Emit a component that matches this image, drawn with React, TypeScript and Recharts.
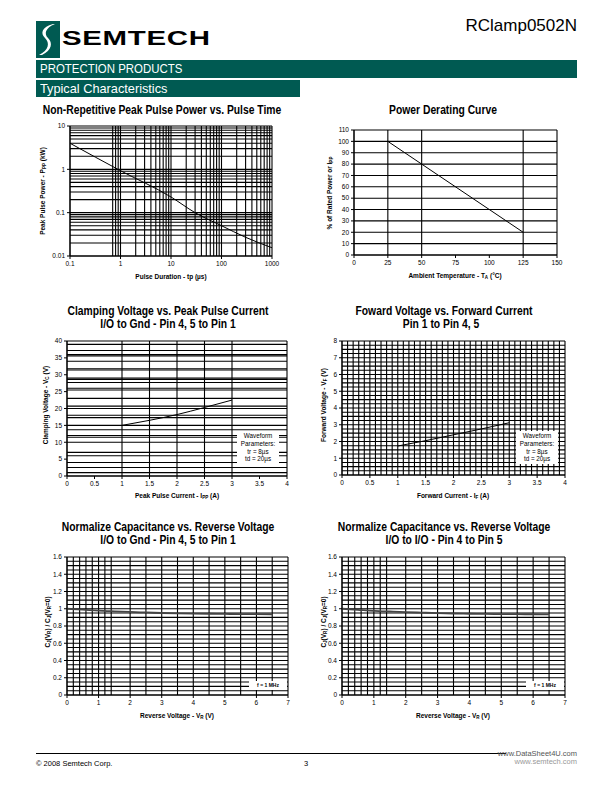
import React from 'react';
import { LineChart, Line, XAxis, YAxis, CartesianGrid } from 'recharts';

// Non-Repetitive Peak Pulse Power vs. Pulse Time (log-log)
const pulseTime = [0.1, 1, 10, 30, 100, 300, 1000];
const pulsePower = [4, 0.93, 0.23, 0.1, 0.05, 0.027, 0.0155];
const pulseTimeTicks = [0.1, 1, 10, 100, 1000];
const pulsePowerTicks = [0.01, 0.1, 1, 10];
const pulseTimeGrid = [0.1, 0.7, 0.8, 0.9, 1, 2, 3, 4, 5, 6, 7, 8, 9, 10, 20, 30, 40, 50, 60, 70, 80, 90,
  100, 200, 300, 400, 500, 600, 700, 800, 900, 1000];
const pulsePowerGrid = [0.01, 0.02, 0.03, 0.04, 0.05, 0.06, 0.07, 0.08, 0.09, 0.1, 0.2, 0.3, 0.4, 0.5, 0.6, 0.7,
  0.8, 0.9, 1, 2, 3, 4, 5, 6, 7, 8, 9, 10];

// Power Derating Curve
const deratingTemp = [25, 125];
const deratingPct = [100, 20];
const tempTicks = [0, 25, 50, 75, 100, 125, 150];
const tempGrid = [0, 25, 50, 125, 150];
const pctTicks = [0, 10, 20, 30, 40, 50, 60, 70, 80, 90, 100, 110];

// Clamping Voltage vs. Peak Pulse Current
const clampCurrent = [1, 1.5, 2, 2.5, 3];
const clampVoltage = [15, 16.5, 18.2, 20.3, 22.5];
const currentTicks = [0, 0.5, 1, 1.5, 2, 2.5, 3, 3.5, 4];
const clampTicks = [0, 5, 10, 15, 20, 25, 30, 35, 40];
const clampXGrid = [0, 1, 1.5, 2, 2.5, 3, 4];
const clampYGrid = [0, 1, 2.5, 4, 6, 7, 10, 11.5, 12, 13.7, 15, 17.3, 18, 20, 20.7, 23, 25.5, 26, 27.7, 28.6,
  29, 31.4, 31.8, 34, 35.6, 36, 37.2, 39, 40];

// Foward Voltage vs. Forward Current
const fwdCurrent = [1, 1.5, 2, 2.5, 3];
const fwdVoltage = [1.73, 2.05, 2.4, 2.75, 3.12];
const fwdTicks = [0, 1, 2, 3, 4, 5, 6, 7, 8];

// Normalize Capacitance vs. Reverse Voltage
const revVoltage = [0, 0.5, 1, 1.5, 2, 2.5, 3, 3.5, 4, 4.5, 5, 5.5, 6, 6.5];
const capGnd = [1.0, 0.99, 0.978, 0.97, 0.963, 0.957, 0.951, 0.947, 0.944, 0.942, 0.94, 0.938, 0.937, 0.936];
const capIO = [1.0, 0.988, 0.976, 0.968, 0.961, 0.955, 0.95, 0.945, 0.942, 0.94, 0.938, 0.937, 0.936, 0.935];
const revTicks = [0, 1, 2, 3, 4, 5, 6, 7];
const capTicks = [0, 0.2, 0.4, 0.6, 0.8, 1, 1.2, 1.4, 1.6];
const revGrid = [0, 0.2, 0.4, 0.6, 0.8, 1, 1.2, 1.4, 2, 2.5, 3, 3.5, 4, 4.5, 5, 5.5, 6, 6.5, 7];

// grid line positions (evenly spaced minor grids)
const steps = (from: number, to: number, step: number) => {
  const out: number[] = [];
  for (let v = from; v <= to + 1e-9; v += step) out.push(Math.round(v * 1000) / 1000);
  return out;
};
const fwdXGrid = steps(0, 4, 0.1);
const fwdYGrid = steps(0, 8, 0.25);
const capYGrid = steps(0, 1.6, 0.05);

const SANS = "'Liberation Sans', Arial, sans-serif";
const TEAL = '#005a52';

const zip = (xs: number[], ys: number[]) => xs.map((x, i) => ({ x, y: ys[i] }));

type PlotProps = {
  x0: number; x1: number; y0: number; y1: number;
  data: { x: number; y: number }[];
  xDomain: [number, number]; yDomain: [number, number];
  xTicks: number[]; yTicks: number[];
  xGrid: number[]; yGrid: number[];
  log?: boolean;
  curve?: 'linear' | 'monotone';
  lineColor?: string;
  lineWidth?: number;
};

function Plot(p: PlotProps) {
  const tick = { fontSize: 6.5, fill: '#000', fontFamily: SANS };
  return (
    <div style={{ position: 'absolute', left: p.x0 - 40, top: p.y0 - 10 }}>
      <LineChart width={p.x1 - p.x0 + 60} height={p.y1 - p.y0 + 30} data={p.data}
        margin={{ top: 10, right: 20, bottom: 6, left: 10 }}>
        <CartesianGrid stroke="#000" strokeWidth={1.1} horizontalValues={p.yGrid} verticalValues={p.xGrid} />
        <XAxis type="number" dataKey="x" scale={p.log ? 'log' : 'linear'} domain={p.xDomain} ticks={p.xTicks}
          interval={0} height={14} tick={tick} tickSize={3} tickMargin={2} stroke="#000" allowDataOverflow />
        <YAxis type="number" dataKey="y" scale={p.log ? 'log' : 'linear'} domain={p.yDomain} ticks={p.yTicks}
          interval={0} width={30} tick={tick} tickSize={3} tickMargin={2} stroke="#000" allowDataOverflow />
        <Line type={p.curve || 'linear'} dataKey="y" stroke={p.lineColor || '#000'} strokeWidth={p.lineWidth || 1}
          dot={false} isAnimationActive={false} />
      </LineChart>
    </div>
  );
}

function Txt({ x, y, children, size = 6.5, bold = true, sx = 1, rotate = false, color = '#000' }:
  { x: number; y: number; children: React.ReactNode; size?: number; bold?: boolean; sx?: number; rotate?: boolean; color?: string }) {
  return (
    <div style={{
      position: 'absolute', left: x, top: y, whiteSpace: 'nowrap', fontSize: size, lineHeight: 1,
      fontWeight: bold ? 700 : 400, fontFamily: SANS, color,
      transform: `translate(-50%, -50%)${rotate ? ' rotate(-90deg)' : ''} scaleX(${sx})`,
    }}>{children}</div>
  );
}

function Title({ x, y, children }: { x: number; y: number; children: React.ReactNode }) {
  return <Txt x={x} y={y} size={12} sx={0.86}>{children}</Txt>;
}

const sub = (s: string) => <sub style={{ fontSize: '0.7em', verticalAlign: '-0.25em' }}>{s}</sub>;

function Waveform({ left, top }: { left: number; top: number }) {
  return (
    <div style={{
      position: 'absolute', left, top, width: 42, height: 33, background: '#fff', fontFamily: SANS,
      fontSize: 6.3, lineHeight: '7.8px', textAlign: 'center', paddingTop: 1, boxSizing: 'border-box',
    }}>
      <div>Waveform</div>
      <div>Parameters:</div>
      <div>tr = 8µs</div>
      <div>td = 20µs</div>
    </div>
  );
}

function Freq({ left, top }: { left: number; top: number }) {
  return (
    <div style={{
      position: 'absolute', left, top, width: 38, height: 9, background: '#fff', fontFamily: SANS,
      fontSize: 5, lineHeight: '9px', textAlign: 'center', fontWeight: 700,
    }}>f = 1 MHz</div>
  );
}

export default function App() {
  return (
    <div style={{ position: 'absolute', left: 0, top: 0, width: 612, height: 792, background: '#fff', overflow: 'hidden' }}>
      {/* header */}
      <svg style={{ position: 'absolute', left: 36, top: 21 }} width={24} height={37}>
        <rect width={24} height={37} fill={TEAL} />
        <path d="M17 3 C6 6 4 12 9 17 C14 22 13 29 3 34 L6 34 C16 29 17 22 12 17 C8 13 9 7 19 3 Z" fill="#fff" />
      </svg>
      <div style={{
        position: 'absolute', left: 62, top: 27, fontFamily: SANS, fontWeight: 900, fontSize: 21,
        lineHeight: 1, letterSpacing: 0.5, transform: 'scaleX(1.4)', transformOrigin: 'left top',
      }}>SEMTECH</div>
      <div style={{ position: 'absolute', right: 35, top: 17, fontFamily: SANS, fontSize: 17, lineHeight: 1 }}>RClamp0502N</div>
      <div style={{
        position: 'absolute', left: 36, top: 60, width: 541, height: 18, background: TEAL, color: '#fff',
        fontFamily: SANS, fontSize: 13, lineHeight: '18px', paddingLeft: 4, boxSizing: 'border-box',
      }}>
        <span style={{ display: 'inline-block', transform: 'scaleX(0.88)', transformOrigin: 'left center' }}>PROTECTION PRODUCTS</span>
      </div>
      <div style={{
        position: 'absolute', left: 36, top: 80, width: 264, height: 17, background: TEAL, color: '#fff',
        fontFamily: SANS, fontSize: 13, lineHeight: '17px', paddingLeft: 4, boxSizing: 'border-box',
      }}>
        <span style={{ display: 'inline-block', transform: 'scaleX(0.98)', transformOrigin: 'left center' }}>Typical Characteristics</span>
      </div>

      {/* titles */}
      <Title x={162} y={110}>Non-Repetitive Peak Pulse Power vs. Pulse Time</Title>
      <Title x={443} y={110}>Power Derating Curve</Title>
      <Title x={168} y={311}>Clamping Voltage vs. Peak Pulse Current</Title>
      <Title x={168} y={324}>I/O to Gnd - Pin 4, 5 to Pin 1</Title>
      <Title x={444} y={311}>Foward Voltage vs. Forward Current</Title>
      <Title x={441} y={324}>Pin 1 to Pin 4, 5</Title>
      <Title x={168} y={527}>Normalize Capacitance vs. Reverse Voltage</Title>
      <Title x={168} y={540}>I/O to Gnd - Pin 4, 5 to Pin 1</Title>
      <Title x={444} y={527}>Normalize Capacitance vs. Reverse Voltage</Title>
      <Title x={444} y={540}>I/O to I/O - Pin 4 to Pin 5</Title>

      {/* charts */}
      <Plot x0={70} x1={272} y0={126} y1={256} data={zip(pulseTime, pulsePower)} log curve="monotone"
        xDomain={[0.1, 1000]} yDomain={[0.01, 10]} xTicks={pulseTimeTicks} yTicks={pulsePowerTicks}
        xGrid={pulseTimeGrid} yGrid={pulsePowerGrid} />
      <Plot x0={354} x1={557} y0={130} y1={255} data={zip(deratingTemp, deratingPct)}
        xDomain={[0, 150]} yDomain={[0, 110]} xTicks={tempTicks} yTicks={pctTicks}
        xGrid={tempGrid} yGrid={pctTicks} />
      <Plot x0={67} x1={287} y0={341} y1={476} data={zip(clampCurrent, clampVoltage)} curve="monotone"
        xDomain={[0, 4]} yDomain={[0, 40]} xTicks={currentTicks} yTicks={clampTicks}
        xGrid={clampXGrid} yGrid={clampYGrid} />
      <Plot x0={342} x1={565} y0={341} y1={475} data={zip(fwdCurrent, fwdVoltage)}
        xDomain={[0, 4]} yDomain={[0, 8]} xTicks={currentTicks} yTicks={fwdTicks}
        xGrid={fwdXGrid} yGrid={fwdYGrid} />
      <Plot x0={67} x1={288} y0={557} y1={695} data={zip(revVoltage, capGnd)} curve="monotone"
        xDomain={[0, 7]} yDomain={[0, 1.6]} xTicks={revTicks} yTicks={capTicks}
        xGrid={revGrid} yGrid={capYGrid} lineColor="#444" lineWidth={1.8} />
      <Plot x0={342} x1={565} y0={557} y1={695} data={zip(revVoltage, capIO)} curve="monotone"
        xDomain={[0, 7]} yDomain={[0, 1.6]} xTicks={revTicks} yTicks={capTicks}
        xGrid={revGrid} yGrid={capYGrid} lineColor="#444" lineWidth={1.8} />

      <Waveform left={237} top={431} />
      <Waveform left={516} top={431} />
      <Freq left={249} top={681} />
      <Freq left={526} top={681} />

      {/* axis titles */}
      <Txt x={171} y={277}>Pulse Duration - tp (µs)</Txt>
      <Txt x={455} y={277}>Ambient Temperature - T{sub('A')} (°C)</Txt>
      <Txt x={177} y={497}>Peak Pulse Current - I{sub('PP')} (A)</Txt>
      <Txt x={453} y={497}>Forward Current - I{sub('F')} (A)</Txt>
      <Txt x={177} y={717}>Reverse Voltage - V{sub('R')} (V)</Txt>
      <Txt x={453} y={717}>Reverse Voltage - V{sub('R')} (V)</Txt>
      <Txt x={44} y={191} rotate>Peak Pulse Power - P{sub('PP')} (kW)</Txt>
      <Txt x={331} y={193} rotate>% of Rated Power or I{sub('PP')}</Txt>
      <Txt x={47} y={405} rotate>Clamping Voltage - V{sub('C')} (V)</Txt>
      <Txt x={325} y={405} rotate>Forward Voltage - V{sub('F')} (V)</Txt>
      <Txt x={49} y={622} rotate>C{sub('J')}(V{sub('R')}) / C{sub('J')}(V{sub('R')}=0)</Txt>
      <Txt x={325} y={622} rotate>C{sub('J')}(V{sub('R')}) / C{sub('J')}(V{sub('R')}=0)</Txt>

      {/* footer */}
      <div style={{ position: 'absolute', left: 36, top: 753, width: 470, height: 1, background: '#000' }} />
      <div style={{ position: 'absolute', left: 36, top: 759, fontFamily: SANS, fontSize: 7.5 }}>© 2008 Semtech Corp.</div>
      <div style={{ position: 'absolute', left: 304, top: 759, fontFamily: SANS, fontSize: 7.5 }}>3</div>
      <div style={{ position: 'absolute', right: 35, top: 749, fontFamily: SANS, fontSize: 7.5, color: '#555' }}>www.DataSheet4U.com</div>
      <div style={{ position: 'absolute', right: 35, top: 757, fontFamily: SANS, fontSize: 7.5, color: '#999' }}>www.semtech.com</div>
    </div>
  );
}
